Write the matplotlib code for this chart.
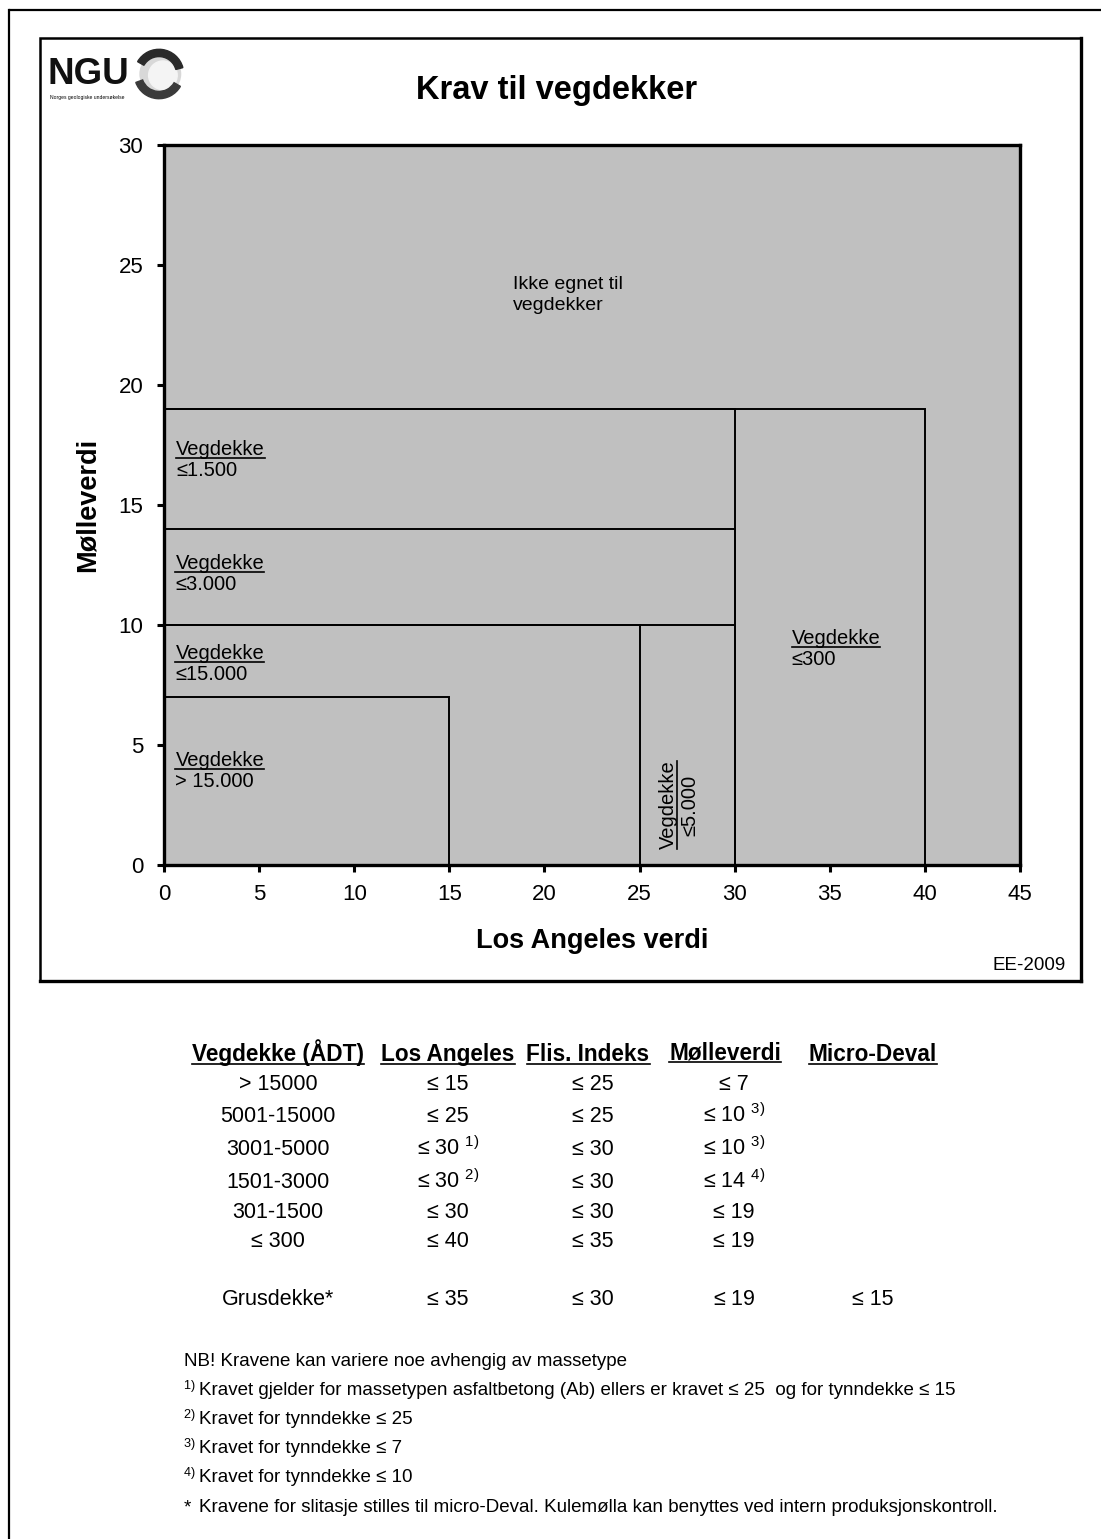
import matplotlib
matplotlib.use("Agg")
import matplotlib.pyplot as plt
from matplotlib.patches import Rectangle, Circle, Wedge
from matplotlib.lines import Line2D

plt.rcParams['font.family'] = ['Liberation Sans', 'DejaVu Sans']
plt.rcParams['mathtext.fontset'] = 'custom'
plt.rcParams['mathtext.rm'] = 'Liberation Sans'
plt.rcParams['mathtext.it'] = 'Liberation Sans:italic'
plt.rcParams['mathtext.bf'] = 'Liberation Sans:bold'

# ---------------- data ----------------
x_ticks = [0, 5, 10, 15, 20, 25, 30, 35, 40, 45]
y_ticks = [0, 5, 10, 15, 20, 25, 30]

# requirement regions: (label line 1, label line 2, LA limit, Molle limit)
region_names = ["Vegdekke", "Vegdekke", "Vegdekke", "Vegdekke", "Vegdekke", "Vegdekke"]
region_limits = ["> 15.000", "≤15.000", "≤5.000", "≤3.000", "≤1.500", "≤300"]
region_la = [15, 25, 30, 30, 30, 40]
region_molle = [7, 10, 10, 14, 19, 19]
# label anchor positions (data coords) for each region
region_lx = [0.6, 0.6, 26.8, 0.6, 0.65, 33.0]
region_ly = [4.12, 8.57, 2.5, 12.32, 17.07, 9.2]

table_headers = ["Vegdekke (ÅDT)", "Los Angeles", "Flis. Indeks", "Mølleverdi", "Micro-Deval"]
traffic = ["> 15000", "5001-15000", "3001-5000", "1501-3000", "301-1500", "≤ 300"]
la_req = ["15", "25", "30", "30", "30", "40"]
la_notes = ["", "", "1)", "2)", "", ""]
flis_req = ["25", "25", "30", "30", "30", "35"]
molle_req = ["7", "10", "10", "14", "19", "19"]
molle_notes = ["", "3)", "3)", "4)", "", ""]
grus_row = ["Grusdekke*", "35", "30", "19", "15"]

footnotes = [
    ("", "NB! Kravene kan variere noe avhengig av massetype"),
    ("1)", "Kravet gjelder for massetypen asfaltbetong (Ab) ellers er kravet ≤ 25  og for tynndekke ≤ 15"),
    ("2)", "Kravet for tynndekke ≤ 25"),
    ("3)", "Kravet for tynndekke ≤ 7"),
    ("4)", "Kravet for tynndekke ≤ 10"),
    ("*", "Kravene for slitasje stilles til micro-Deval. Kulemølla kan benyttes ved intern produksjonskontroll."),
]

# ---------------- figure ----------------
W, H = 1101, 1539
fig = plt.figure(figsize=(W / 100, H / 100), dpi=100)
fig.patch.set_facecolor("white")


def F(x, y):
    return (x / W, 1 - y / H)


# page border
fig.add_artist(Line2D([F(10, 0)[0], F(1110, 0)[0]], [F(0, 10)[1], F(0, 10)[1]],
                      color="black", lw=1.6, transform=fig.transFigure))
fig.add_artist(Line2D([F(9, 0)[0], F(9, 0)[0]], [F(0, 10)[1], F(0, 1600)[1]],
                      color="black", lw=1.6, transform=fig.transFigure))
# chart box
x0, y0 = F(40, 981)
x1, y1 = F(1081, 38)
fig.add_artist(Rectangle((x0, y0), x1 - x0, y1 - y0, transform=fig.transFigure,
                         fill=False, edgecolor="black", lw=1.8))
fig.add_artist(Line2D([x1, x1], [y0, y1], color="black", lw=2.4, transform=fig.transFigure))
fig.add_artist(Line2D([x0, x1], [y0, y0], color="black", lw=2.4, transform=fig.transFigure))

# ---------------- axes ----------------
ax_l, ax_b = F(164, 865)
ax_r, ax_t = F(1020, 145)
ax = fig.add_axes([ax_l, ax_b, ax_r - ax_l, ax_t - ax_b])
ax.set_facecolor("#C0C0C0")
ax.set_xlim(0, 45)
ax.set_ylim(0, 30)
ax.set_xticks(x_ticks)
ax.set_yticks(y_ticks)
ax.tick_params(axis="both", direction="out", length=5, width=2.2, labelsize=16, pad=9)
ax.tick_params(axis="y", pad=10)
for s in ax.spines.values():
    s.set_linewidth(2.4)

for la, m in zip(region_la, region_molle):
    ax.add_patch(Rectangle((0, 0), la, m, fill=False, edgecolor="black", lw=1.4, zorder=2))

ax.set_xlabel("Los Angeles verdi", fontsize=19.5, fontweight="bold", labelpad=16)
ax.set_ylabel("Mølleverdi", fontsize=19.5, fontweight="bold", labelpad=13)

ax.text(18.35, 23.75, "Ikke egnet til\nvegdekker", fontsize=14, ha="left", va="center",
        linespacing=1.25)

underline_h = []   # horizontal underlines
underline_v = []   # vertical (rotated) underlines
for name, lim, lx, ly in zip(region_names, region_limits, region_lx, region_ly):
    if lim == "≤5.000":
        t1 = ax.text(lx, ly, name, fontsize=14.5, rotation=90, rotation_mode="anchor",
                     ha="center", va="baseline")
        t2 = ax.text(lx + 1.15, ly, lim, fontsize=14.5, rotation=90, rotation_mode="anchor",
                     ha="center", va="baseline")
        underline_v.append(t1)
    else:
        t1 = ax.text(lx, ly, name, fontsize=14.5, ha="left", va="baseline")
        t2 = ax.text(lx, ly - 0.87, lim, fontsize=14.5, ha="left", va="baseline")
        underline_h.append(t1)

# ---------------- title & logo ----------------
fig.text(*F(557, 91), "Krav til vegdekker", fontsize=23.5, fontweight="bold", ha="center", va="center")
fig.text(*F(1066, 965), "EE-2009", fontsize=13.5, ha="right", va="center")

fig.text(*F(48, 74), "NGU", fontsize=26.5, fontweight="bold", ha="left", va="center", color="#111111")
fig.text(*F(50, 97), "Norges geologiske undersøkelse", fontsize=3.6, ha="left", va="center")
lax_l, lax_b = F(133, 101)
lax_r, lax_t = F(185, 47)
lax = fig.add_axes([lax_l, lax_b, lax_r - lax_l, lax_t - lax_b])
lax.set_xlim(-1, 1)
lax.set_ylim(-1, 1)
lax.set_aspect("equal")
lax.axis("off")
lax.add_patch(Circle((0.05, 0), 0.78, color="#d8d8d8"))
lax.add_patch(Circle((0.15, -0.05), 0.55, color="#f4f4f4"))
lax.add_patch(Wedge((0, 0), 0.95, 15, 150, width=0.28, color="#2a2a2a"))
lax.add_patch(Wedge((0, 0), 0.95, 200, 330, width=0.28, color="#3a3a3a"))

# ---------------- table ----------------
col_x = [278, 448, 588, 725, 873]
header_y = 1054
row_y = [1083, 1115, 1148, 1181, 1211, 1240]
grus_y = 1298
fs_tab = 15.5

for cx, h in zip(col_x, table_headers):
    dy = -2 if "ø" in h else 0
    t = fig.text(*F(cx, header_y + 7 + dy), h, fontsize=16.3, fontweight="bold",
                 ha="center", va="baseline")
    underline_h.append(t)

def sup(note):
    return (r" $^{" + note + r"}$") if note else ""

for i, y in enumerate(row_y):
    yb = y + 7
    fig.text(*F(col_x[0], yb), traffic[i], fontsize=fs_tab, ha="center", va="baseline")
    fig.text(*F(col_x[1], yb), "≤ " + la_req[i] + sup(la_notes[i]), fontsize=fs_tab,
             ha="center", va="baseline")
    fig.text(*F(col_x[2] + 5, yb), "≤ " + flis_req[i], fontsize=fs_tab, ha="center", va="baseline")
    fig.text(*F(col_x[3] + 9, yb), "≤ " + molle_req[i] + sup(molle_notes[i]), fontsize=fs_tab,
             ha="center", va="baseline")

yb = grus_y + 7
fig.text(*F(col_x[0], yb), grus_row[0], fontsize=fs_tab, ha="center", va="baseline")
fig.text(*F(col_x[1], yb), "≤ " + grus_row[1], fontsize=fs_tab, ha="center", va="baseline")
fig.text(*F(col_x[2] + 5, yb), "≤ " + grus_row[2], fontsize=fs_tab, ha="center", va="baseline")
fig.text(*F(col_x[3] + 9, yb), "≤ " + r"$\mathit{" + grus_row[3] + "}$", fontsize=fs_tab,
         ha="center", va="baseline")
fig.text(*F(col_x[4], yb), "≤ " + grus_row[4], fontsize=fs_tab, ha="center", va="baseline")

# ---------------- footnotes ----------------
fn_y = [1360, 1389, 1418, 1447, 1476, 1506]
for (mark, txt), y in zip(footnotes, fn_y):
    if mark == "":
        fig.text(*F(184, y + 6), txt, fontsize=13.5, ha="left", va="baseline")
    else:
        if mark == "*":
            fig.text(*F(184, y + 6), "*", fontsize=13.5, ha="left", va="baseline")
        else:
            fig.text(*F(183, y + 6), r"$^{" + mark + r"}$", fontsize=13, ha="left", va="baseline")
        fig.text(*F(199, y + 6), txt, fontsize=13.5, ha="left", va="baseline")

# ---------------- underlines ----------------
fig.canvas.draw()
r = fig.canvas.get_renderer()
inv = fig.transFigure.inverted()
for t in underline_h:
    bb = t.get_window_extent(r)
    bx, by = t.get_transform().transform(t.get_position())
    yy = by - 3
    p0 = inv.transform((bb.x0, yy))
    p1 = inv.transform((bb.x1, yy))
    fig.add_artist(Line2D([p0[0], p1[0]], [p0[1], p1[1]], color="black", lw=1.2,
                          transform=fig.transFigure))
for t in underline_v:
    bb = t.get_window_extent(r)
    bx, by = t.get_transform().transform(t.get_position())
    xx = bx + 3
    p0 = inv.transform((xx, bb.y0))
    p1 = inv.transform((xx, bb.y1))
    fig.add_artist(Line2D([p0[0], p1[0]], [p0[1], p1[1]], color="black", lw=1.2,
                          transform=fig.transFigure))

fig.savefig("out.png", dpi=100)
